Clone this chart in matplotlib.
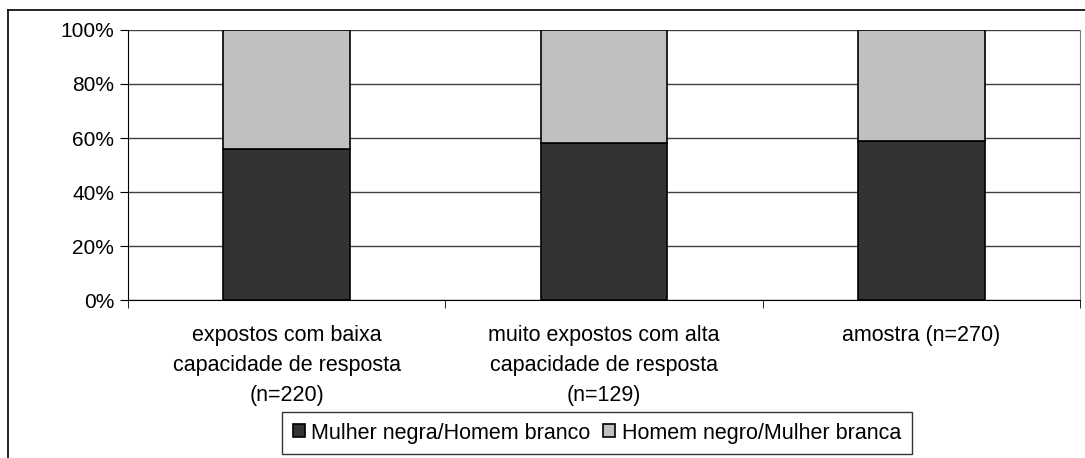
import matplotlib.pyplot as plt
import numpy as np
from matplotlib.lines import Line2D
from matplotlib.ticker import FuncFormatter

plt.rcParams['font.family'] = ['Liberation Sans', 'DejaVu Sans']

categorias = ['expostos com baixa\ncapacidade de resposta\n(n=220)',
              'muito expostos com alta\ncapacidade de resposta\n(n=129)',
              'amostra (n=270)']
mulher_negra = [56, 58, 59]
homem_negro = [44, 42, 41]
series = ['Mulher negra/Homem branco', 'Homem negro/Mulher branca']

W, H = 1085, 458
fig = plt.figure(figsize=(W / 100, H / 100), dpi=100)
ax = fig.add_axes([128 / W, (H - 300) / H, 952 / W, 270 / H])

x = np.arange(len(categorias))
ax.bar(x, mulher_negra, width=0.4, color='#333333', edgecolor='black',
       linewidth=1.2, label=series[0], zorder=3)
ax.bar(x, homem_negro, width=0.4, bottom=mulher_negra, color='#c0c0c0',
       edgecolor='black', linewidth=1.2, label=series[1], zorder=3)

ax.set_xlim(-0.5, 2.5)
ax.set_ylim(0, 100)
ax.set_yticks(range(0, 101, 20))
ax.yaxis.set_major_formatter(FuncFormatter(lambda v, p: f'{int(v)}%'))
ax.grid(axis='y', color='#404040', linewidth=1, zorder=0)

ax.set_xticks(x)
ax.set_xticklabels(categorias, linespacing=1.55)
ax.set_xticks([-0.5, 0.5, 1.5, 2.5], minor=True)
ax.tick_params(axis='x', which='major', length=0, pad=18, labelsize=15.5)
ax.tick_params(axis='x', which='minor', length=6, direction='out', color='black')
ax.tick_params(axis='y', length=6, direction='out', labelsize=15, pad=4)

ax.spines['top'].set_visible(False)
ax.spines['right'].set_color('#808080')
ax.spines['left'].set_color('black')
ax.spines['bottom'].set_color('black')

leg = fig.legend(loc='center', bbox_to_anchor=(597 / W, 1 - 433 / H), ncol=2,
                 fontsize=15.5, frameon=True, fancybox=False, edgecolor='black',
                 handlelength=0.55, handleheight=0.55, handletextpad=0.3,
                 columnspacing=0.6, borderpad=0.5)
leg.get_frame().set_linewidth(1)

# outer frame of the original figure
fig.add_artist(Line2D([8 / W, 8 / W], [0, 1 - 10 / H], color='black', lw=1.2))
fig.add_artist(Line2D([8 / W, 1], [1 - 10 / H, 1 - 10 / H], color='black', lw=1.2))

fig.savefig('out.png', dpi=100)
